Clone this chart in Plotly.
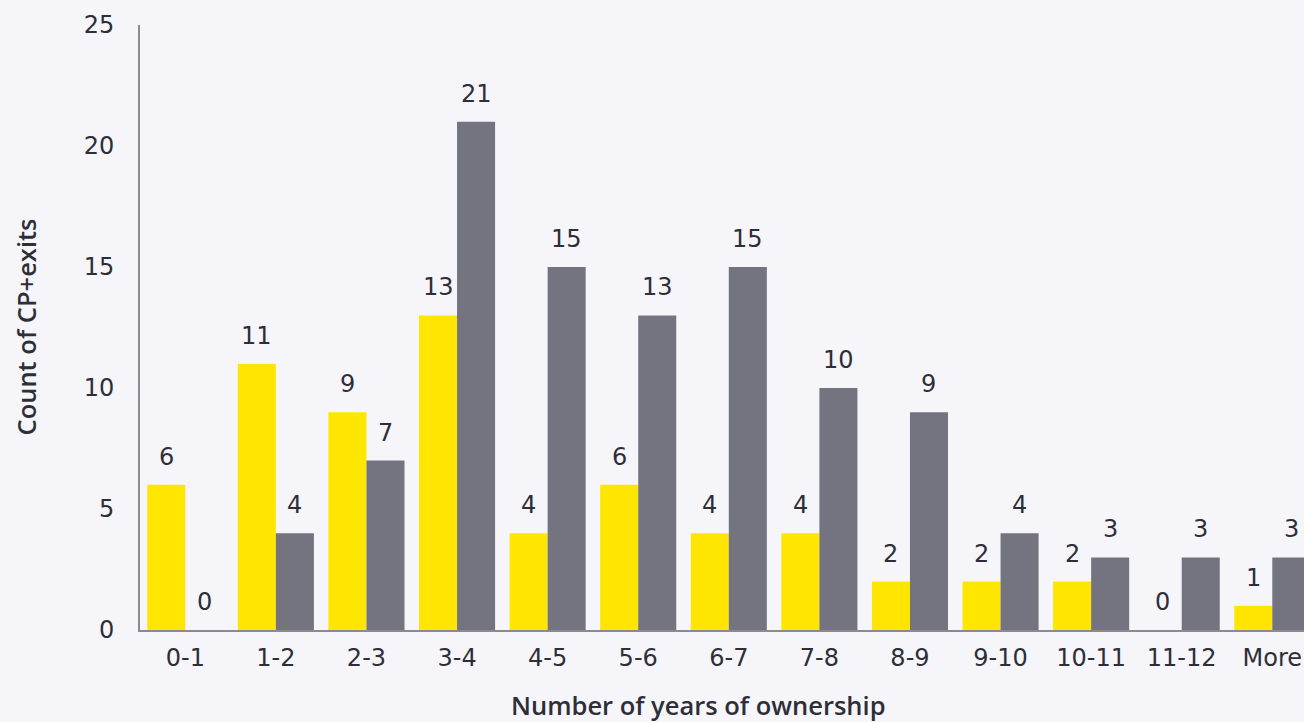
import plotly.graph_objects as go

categories = ["0-1", "1-2", "2-3", "3-4", "4-5", "5-6", "6-7", "7-8", "8-9", "9-10", "10-11", "11-12", "More"]
series_yellow = [6, 11, 9, 13, 4, 6, 4, 4, 2, 2, 2, 0, 1]
series_gray = [0, 4, 7, 21, 15, 13, 15, 10, 9, 4, 3, 3, 3]
y_ticks = [0, 5, 10, 15, 20, 25]

YELLOW = "#FFE600"
GRAY = "#747480"
TEXT = "#2E2E38"
BG = "#F6F6FA"
FONT = "DejaVu Sans"
TITLE_FONT = "Open Sans"

fig = go.Figure()
fig.add_trace(go.Bar(x=categories, y=series_yellow, marker=dict(color=YELLOW, line=dict(width=0)),
                     name="A", showlegend=False))
fig.add_trace(go.Bar(x=categories, y=series_gray, marker=dict(color=GRAY, line=dict(width=0)),
                     name="B", showlegend=False))

annotations = []
half = 0.42 / 2
for i, (a, b) in enumerate(zip(series_yellow, series_gray)):
    for xpos, v in ((i - half, a), (i + half, b)):
        annotations.append(dict(x=xpos, y=v, xref="x", yref="y", text=str(v), showarrow=False,
                                yanchor="bottom", yshift=12,
                                font=dict(family=FONT, size=24, color=TEXT)))

annotations.append(dict(x=(698 - 140) / 1164, y=-0.124, xref="paper", yref="paper",
                        text="Number of years of ownership", showarrow=False,
                        xanchor="center", yanchor="middle",
                        font=dict(family=TITLE_FONT, size=25.5, color=TEXT, weight=600)))
annotations.append(dict(x=(25 - 140) / 1164, y=0.5, xref="paper", yref="paper",
                        text="Count of CP+exits", showarrow=False, textangle=-90,
                        xanchor="center", yanchor="middle",
                        font=dict(family=TITLE_FONT, size=25.5, color=TEXT, weight=600)))

fig.update_layout(
    width=1304, height=722,
    margin=dict(l=140, r=0, t=25, b=92),
    paper_bgcolor=BG, plot_bgcolor=BG,
    barmode="group", bargap=0.16, bargroupgap=0,
    font=dict(family=FONT, size=24, color=TEXT),
    annotations=annotations,
    xaxis=dict(type="category", range=[-0.5, 12.35], showgrid=False, showline=True,
               linecolor="#8A8A94", linewidth=2, ticks="", tickfont=dict(size=24, color=TEXT),
               ticklabelstandoff=5),
    yaxis=dict(range=[0, 25], tickvals=y_ticks, showgrid=False, showline=True, zeroline=False,
               linecolor="#8A8A94", linewidth=2, ticks="", tickfont=dict(size=24, color=TEXT),
               ticklabelstandoff=19),
)

fig.write_html("out.html")
